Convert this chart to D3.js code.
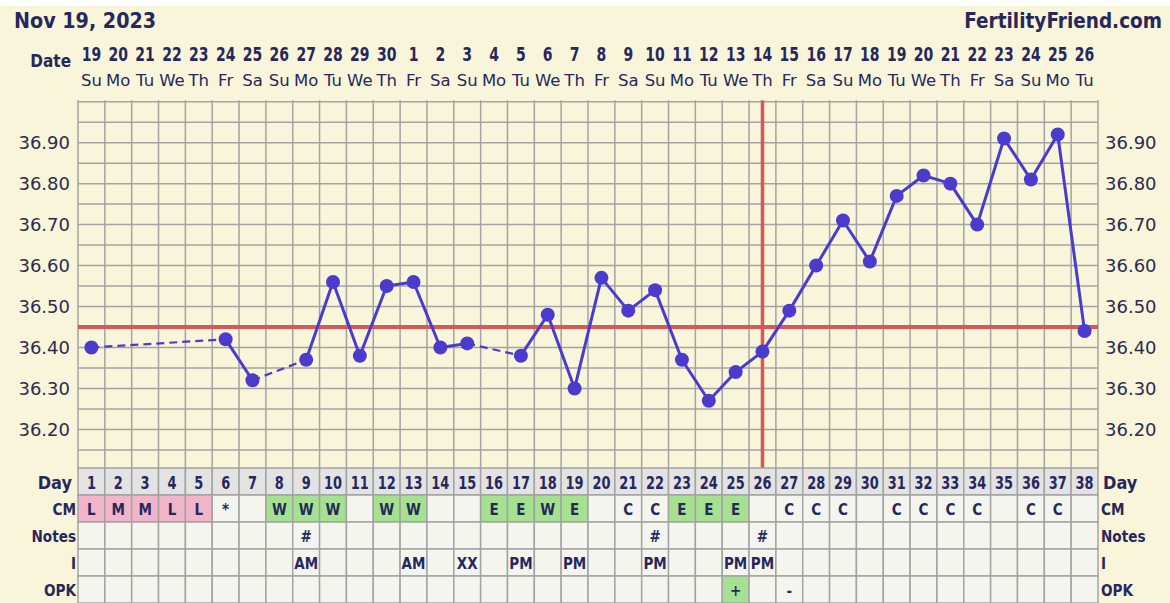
<!DOCTYPE html>
<html><head><meta charset="utf-8">
<script src="https://cdn.jsdelivr.net/npm/d3@7"></script>
<style>html,body{margin:0;padding:0;background:#f8f5da;}svg{display:block;}</style>
</head><body>
<svg id="c" width="1170" height="603"></svg>
<script>
// ---- data ----
const title = "Nov 19, 2023";
const site = "FertilityFriend.com";
const cycleDays = d3.range(1, 39);
const dates = [19,20,21,22,23,24,25,26,27,28,29,30,1,2,3,4,5,6,7,8,9,10,11,12,13,14,15,16,17,18,19,20,21,22,23,24,25,26];
const weekdays = ["Su","Mo","Tu","We","Th","Fr","Sa","Su","Mo","Tu","We","Th","Fr","Sa","Su","Mo","Tu","We","Th","Fr","Sa","Su","Mo","Tu","We","Th","Fr","Sa","Su","Mo","Tu","We","Th","Fr","Sa","Su","Mo","Tu"];
const temps = [36.40,null,null,null,null,36.42,36.32,null,36.37,36.56,36.38,36.55,36.56,36.40,36.41,null,36.38,36.48,36.30,36.57,36.49,36.54,36.37,36.27,36.34,36.39,36.49,36.60,36.71,36.61,36.77,36.82,36.80,36.70,36.91,36.81,36.92,36.44];
const cm = ["L","M","M","L","L","*","","W","W","W","","W","W","","","E","E","W","E","","C","C","E","E","E","","C","C","C","","C","C","C","C","","C","C",""];
const notes = ["","","","","","","","","#","","","","","","","","","","","","","#","","","","#","","","","","","","","","","","",""];
const intercourse = ["","","","","","","","","AM","","","","AM","","XX","","PM","","PM","","","PM","","","PM","PM","","","","","","","","","","","",""];
const opk = ["","","","","","","","","","","","","","","","","","","","","","","","","+","","-","","","","","","","","","","",""];
const yTicks = [36.20,36.30,36.40,36.50,36.60,36.70,36.80,36.90];
const coverline = 36.45;
const ovulationDay = 26;
const rowLabels = ["Day","CM","Notes","I","OPK"];

// ---- layout ----
const svg = d3.select("#c");
const W = 1170, H = 603;
const L = 78, R = 1098, T = 101.7, B = 468;
const navy = "#27275c", lineC = "#4a3bcc", red = "#d65858", gridC = "#a3a3a3";
const x = d3.scaleLinear().domain([0.5, 38.5]).range([L, R]);
const y = d3.scaleLinear().domain([36.10, 37.00]).range([470.4, T]);
const cw = x(2) - x(1);

svg.append("rect").attr("width", W).attr("height", H).attr("fill", "#f8f5da");
svg.append("rect").attr("width", W).attr("height", 6).attr("fill", "#ffffff");

function txt(g, px, py, s, o) {
  const t = g.append("text")
    .attr("transform", `translate(${px},${py}) scale(${o.sx || 1},1)`)
    .attr("text-anchor", o.anchor || "middle")
    .attr("font-family", "'DejaVu Sans', Verdana, sans-serif")
    .attr("font-size", o.size)
    .attr("font-weight", o.bold ? "bold" : "normal")
    .attr("fill", o.fill || navy)
    .text(s);
  if (o.mid) t.attr("dy", "0.36em");
  return t;
}

// header
txt(svg, 14, 28, title, {size: 22, bold: true, anchor: "start", sx: 0.87});
txt(svg, 1162, 28, site, {size: 22, bold: true, anchor: "end", sx: 0.84});
txt(svg, 71, 67, "Date", {size: 17, bold: true, anchor: "end", sx: 0.9});
cycleDays.forEach((d, i) => {
  txt(svg, x(d), 61, String(dates[i]), {size: 20, bold: true, sx: 0.7});
  txt(svg, x(d), 86, weekdays[i], {size: 16.5});
});

// plot grid
const gGrid = svg.append("g");
const hLines = d3.range(0, 19).map(k => 36.10 + k * 0.05);
gGrid.selectAll("line.h").data(hLines).enter().append("line")
  .attr("x1", L).attr("x2", R).attr("y1", d => y(d)).attr("y2", d => y(d))
  .attr("stroke", gridC).attr("stroke-width", 1.5);
gGrid.selectAll("line.v").data(d3.range(0, 39)).enter().append("line")
  .attr("x1", d => x(d + 0.5)).attr("x2", d => x(d + 0.5)).attr("y1", T - 1.5).attr("y2", B)
  .attr("stroke", gridC).attr("stroke-width", 1.5);

// axis labels
yTicks.forEach(v => {
  txt(svg, 70, y(v), v.toFixed(2), {size: 18, anchor: "end", mid: true, fill: "#2b2b50"});
  txt(svg, 1105, y(v), v.toFixed(2), {size: 18, anchor: "start", mid: true, fill: "#2b2b50"});
});

// coverline + ovulation
svg.append("line").attr("x1", L).attr("x2", R).attr("y1", y(coverline)).attr("y2", y(coverline))
  .attr("stroke", red).attr("stroke-width", 4);
svg.append("line").attr("x1", x(ovulationDay)).attr("x2", x(ovulationDay)).attr("y1", T - 1.5).attr("y2", B)
  .attr("stroke", red).attr("stroke-width", 3.5);

// temperature line
const pts = cycleDays.map((d, i) => ({d, v: temps[i]})).filter(p => p.v !== null);
const gLine = svg.append("g");
for (let i = 1; i < pts.length; i++) {
  const a = pts[i - 1], b = pts[i];
  const gap = b.d - a.d > 1;
  gLine.append("line")
    .attr("x1", x(a.d)).attr("y1", y(a.v)).attr("x2", x(b.d)).attr("y2", y(b.v))
    .attr("stroke", lineC).attr("stroke-width", gap ? 2.2 : 3)
    .attr("stroke-dasharray", gap ? "8,5" : null);
}
gLine.selectAll("circle").data(pts).enter().append("circle")
  .attr("cx", p => x(p.d)).attr("cy", p => y(p.v)).attr("r", 7).attr("fill", lineC);

// table
const rowH = 27, rowTop = 468;
const rows = [
  {key: "Day", vals: cycleDays.map(String)},
  {key: "CM", vals: cm},
  {key: "Notes", vals: notes},
  {key: "I", vals: intercourse},
  {key: "OPK", vals: opk}
];
const gT = svg.append("g");
rows.forEach((r, ri) => {
  const y0 = rowTop + ri * rowH;
  cycleDays.forEach((d, i) => {
    const v = r.vals[i];
    let fill = ri === 0 ? "#e3e3e3" : "#f5f5ef";
    if (r.key === "CM" && (v === "L" || v === "M")) fill = "#f2b4c8";
    if (r.key === "CM" && (v === "W" || v === "E")) fill = "#a5e190";
    if (r.key === "OPK" && v === "+") fill = "#a5e190";
    gT.append("rect").attr("x", x(d - 0.5)).attr("y", y0).attr("width", cw).attr("height", rowH)
      .attr("fill", fill).attr("stroke", gridC).attr("stroke-width", 1.5);
  });
});
rows.forEach((r, ri) => {
  const yc = rowTop + ri * rowH + rowH / 2;
  cycleDays.forEach((d, i) => {
    const v = r.vals[i];
    if (!v) return;
    if (ri === 0) txt(gT, x(d), yc + 1, v, {size: 18, bold: true, sx: 0.72, mid: true});
    else txt(gT, x(d), yc + 1, v, {size: 15, bold: true, sx: 0.9, mid: true});
  });
  const big = ri === 0;
  txt(svg, big ? 72 : 76, yc + 1, r.key, {size: big ? 17 : 16, bold: true, anchor: "end", sx: big ? 0.95 : 0.85, mid: true});
  txt(svg, big ? 1103 : 1101, yc + 1, r.key, {size: big ? 17 : 16, bold: true, anchor: "start", sx: big ? 0.95 : 0.85, mid: true});
});
</script>
</body></html>
